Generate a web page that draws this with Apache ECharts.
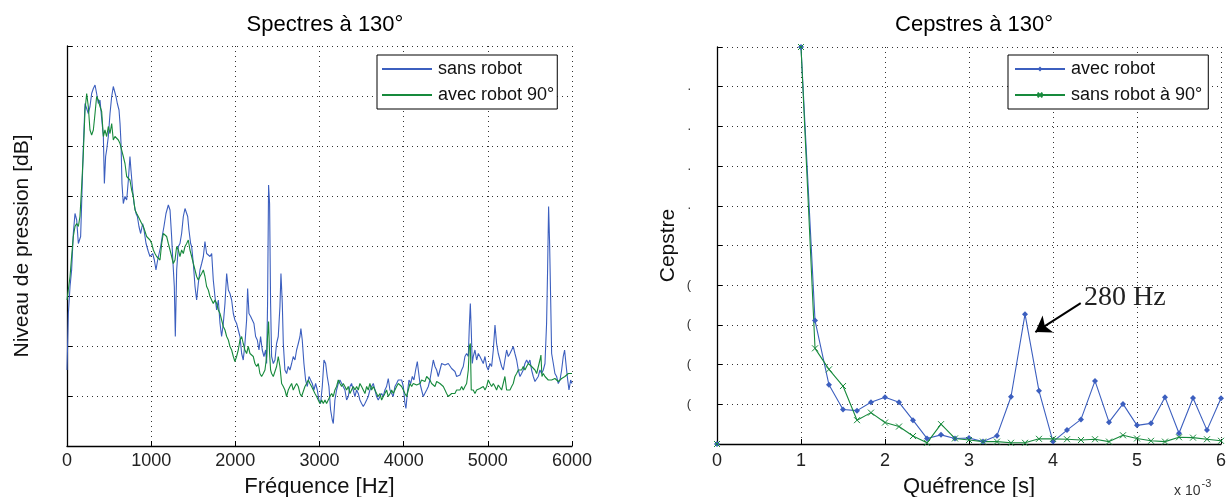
<!DOCTYPE html>
<html><head><meta charset="utf-8">
<script src="https://cdn.jsdelivr.net/npm/echarts@6/dist/echarts.min.js"></script>
<style>html,body{margin:0;padding:0;background:#fff;overflow:hidden}#c{width:1227px;height:497px}</style>
</head><body><div id="c"></div>
<script>
// ---------- Left panel: spectra (frequency in Hz, level in dB-like units) ----------
const blueFreq = [0,16,36,55,75,95,115,135,154,162,174,194,214,234,253,273,293,313,333,352,372,392,412,432,444,459,471,491,511,531,550,562,582,598,618,630,642,653,669,689,709,729,748,760,780,796,820,836,855,875,899,915,939,966,986,1018,1038,1057,1077,1097,1113,1137,1152,1176,1204,1224,1243,1255,1275,1287,1303,1323,1342,1362,1382,1402,1422,1434,1449,1469,1481,1501,1521,1540,1560,1580,1600,1620,1639,1659,1679,1699,1719,1738,1758,1778,1798,1818,1837,1857,1877,1897,1917,1936,1956,
1976,1995,2015,2035,2055,2075,2094,2114,2134,2146,2162,2182,2201,2221,2241,2261,2281,2300,2320,2340,2360,2372,2383,2395,2407,2419,2431,2451,2471,2490,2510,2530,2542,2558,2570,2589,2609,2629,2649,2669,2688,2708,2728,2748,2768,2779,2795,2815,2835,2855,2875,2894,2914,2934,2954,2974,2993,3013,3033,3053,3073,3092,3112,3132,3152,3164,3183,3203,3223,3243,3263,3282,3302,3322,3342,3362,3381,3401,3421,3441,3461,3480,3500,3520,3540,3560,3579,3599,3619,3639,3659,3678,3698,3718,3738,3758,3777,3797,3817,3837,3857,3876,3896,3916,3936,
3976,3996,4015,4027,4043,4063,4083,4103,4122,4142,4162,4174,4194,4213,4233,4253,4273,4293,4312,4332,4352,4372,4392,4411,4431,4451,4471,4491,4510,4530,4550,4570,4590,4609,4629,4649,4669,4689,4708,4728,4748,4768,4780,4792,4803,4815,4827,4847,4867,4887,4906,4926,4946,4966,4986,5005,5025,5045,5065,5085,5104,5124,5144,5164,5184,5203,5223,5243,5263,5283,5302,5322,5342,5362,5382,5401,5421,5441,5461,5481,5500,5520,5540,5560,5580,5599,5619,5639,5659,5679,5698,5710,5722,5734,5746,5758,5778,5797,5817,5837,5857,5877,5896,5912,5928,5944,5964,5984,6000];
const blueLevel = [15.2,26.5,31.9,35.2,42.5,46.5,45.2,40.5,40.2,41.9,48.5,59.9,68.5,68.9,66.5,67.9,70.5,71.5,72.2,70.5,68.5,69.2,65.5,61.9,52.5,57.9,59.2,61.9,66.5,69.9,71.9,72.2,69.9,68.5,67.2,64.5,60.5,52.5,48.5,49.9,49.2,53.2,57.9,55.2,51.2,48.5,46.5,45.9,43.9,42.5,44.5,43.2,40.5,38.9,37.9,38.5,37.2,35.2,37.2,37.2,39.9,42.5,43.9,46.5,48.2,47.2,41.9,37.9,31.9,21.9,35.2,39.9,40.5,42.5,45.9,47.5,47.2,45.9,43.2,40.5,39.9,36.5,31.9,29.2,32.5,35.2,36.5,37.9,40.9,38.5,38.9,37.9,38.5,33.2,29.9,27.2,29.2,24.5,21.9,24.5,28.5,34.5,31.2,30.5,29.2,
26.5,25.2,24.5,23.2,21.9,18.5,17.2,20.5,25.2,31.5,26.5,25.9,26.2,24.5,21.9,21.2,19.2,21.9,19.2,17.9,19.2,16.5,28.5,52.2,48.5,28.5,17.9,16.5,17.2,20.5,21.9,27.9,34.5,28.5,20.5,15.2,14.5,15.9,15.2,16.5,17.9,17.2,19.2,20.5,21.9,23.5,21.2,16.5,13.2,11.9,13.9,13.2,12.5,11.2,12.5,11.2,9.2,8.5,11.9,17.2,16.5,13.9,11.9,7.2,5.2,4.5,9.2,11.2,12.5,13.2,12.5,12.5,11.2,9.2,9.9,11.9,12.5,11.2,9.9,11.2,10.5,9.2,8.5,7.9,8.5,9.2,9.9,11.2,11.9,12.5,11.2,9.9,9.2,9.9,10.5,9.9,11.2,11.9,13.5,11.2,10.5,9.9,11.9,12.5,13.2,
13.2,11.9,8.5,7.5,10.5,13.2,12.5,13.9,13.2,15.2,16.9,15.2,12.5,11.2,9.9,9.9,11.2,11.9,13.2,15.2,17.2,15.9,15.2,13.9,15.2,16.5,16.5,16.2,15.9,16.5,16.2,15.5,15.9,14.9,13.9,13.5,14.2,15.2,15.9,17.9,18.5,17.9,23.9,28.5,23.2,16.5,17.9,19.2,17.2,18.5,17.9,17.2,16.5,17.9,15.9,15.2,16.5,15.9,19.2,24.2,20.5,18.5,17.2,15.9,15.2,17.2,19.2,17.9,18.5,19.2,19.9,18.5,17.2,15.2,13.9,14.5,15.2,16.5,17.2,16.5,17.2,15.2,13.9,12.9,13.2,13.9,15.2,14.5,15.2,16.5,24.5,35.2,47.9,40.5,29.9,18.5,16.5,14.5,13.9,12.5,13.2,15.2,17.9,19.2,16.5,13.9,11.2,13.2,12.5];

const greenFreq = [0,36,55,75,95,115,135,154,174,194,214,234,253,273,293,313,333,352,372,392,412,432,451,471,491,511,531,550,570,590,610,630,649,669,689,709,729,748,768,788,808,828,847,867,887,907,927,946,966,986,1006,1026,1045,1065,1085,1105,1125,1144,1164,1184,1204,1224,1243,1263,1283,1303,1323,1342,1362,1382,1402,1422,1441,1461,1481,1501,1521,1540,1560,1580,1600,1620,1639,1659,1679,1699,1719,1738,1758,1778,1798,1818,1837,1857,1877,1897,1917,1936,1956,
1976,1995,2015,2035,2055,2075,2094,2114,2134,2154,2174,2193,2213,2233,2253,2273,2292,2312,2332,2352,2372,2383,2395,2407,2419,2431,2451,2471,2490,2510,2530,2550,2570,2589,2609,2629,2649,2669,2688,2708,2728,2748,2768,2787,2807,2827,2847,2867,2886,2906,2926,2946,2966,2985,3005,3025,3045,3065,3084,3104,3124,3144,3164,3183,3203,3223,3243,3263,3282,3302,3322,3342,3362,3381,3401,3421,3441,3461,3480,3500,3520,3540,3560,3579,3599,3619,3639,3659,3678,3698,3718,3738,3758,3777,3797,3817,3837,3857,3876,3896,3916,3936,
3976,3996,4015,4035,4055,4075,4095,4114,4134,4154,4174,4194,4213,4233,4253,4273,4293,4312,4332,4352,4372,4392,4411,4431,4451,4471,4491,4510,4530,4550,4570,4590,4609,4629,4649,4669,4689,4708,4728,4748,4768,4780,4792,4803,4815,4827,4847,4867,4887,4906,4926,4946,4966,4986,5005,5025,5045,5065,5085,5104,5124,5144,5164,5184,5203,5223,5243,5263,5283,5302,5322,5342,5362,5382,5401,5421,5441,5461,5481,5500,5520,5540,5560,5580,5599,5619,5631,5643,5659,5679,5698,5718,5738,5758,5778,5797,5817,5837,5857,5877,5896,5916,5936,5956,5976,6000];
const greenLevel = [29.2,33.9,37.9,41.9,43.9,44.5,43.9,45.9,51.9,58.5,67.2,70.5,67.9,63.2,62.2,63.2,66.5,69.9,69.2,67.9,66.9,61.9,63.2,61.9,63.9,62.5,64.5,61.2,61.9,61.9,61.2,60.5,59.2,57.9,56.5,53.9,53.9,53.2,51.2,49.9,47.2,46.5,45.9,45.2,44.5,43.9,42.9,41.9,41.9,41.2,40.5,39.2,38.5,37.9,37.9,37.2,40.5,42.5,42.5,41.9,40.5,39.2,37.9,36.5,37.2,39.9,39.2,37.9,39.2,38.5,39.9,40.5,41.2,39.2,37.9,36.5,35.2,33.9,33.2,33.9,34.5,35.2,33.9,31.9,31.2,29.9,29.9,28.5,29.2,28.5,27.2,26.5,25.2,23.9,23.2,21.9,21.2,19.9,19.2,
17.9,16.9,17.9,19.2,21.2,21.9,20.5,19.2,18.5,19.9,18.5,18.5,17.9,16.5,15.9,16.5,14.5,13.9,14.5,15.2,17.9,21.9,24.9,18.5,15.2,14.5,13.9,13.9,15.9,17.9,15.9,12.5,11.9,11.2,9.9,11.2,11.9,12.5,11.2,11.9,12.5,11.9,10.5,9.9,9.9,11.9,12.5,13.2,12.5,11.9,11.2,10.5,9.9,9.2,8.5,9.2,8.5,9.2,8.5,9.2,9.9,10.5,9.9,11.2,11.9,13.2,12.5,11.9,12.5,11.9,11.2,11.9,10.5,11.2,11.9,11.2,11.9,11.2,12.5,11.9,11.2,10.5,11.9,11.2,12.5,11.2,11.9,11.2,10.5,9.9,10.5,9.2,9.9,10.5,11.2,9.9,10.5,11.2,10.5,11.2,11.9,12.5,
11.9,11.2,10.5,9.9,11.2,12.5,11.9,12.5,12.9,12.2,11.9,12.5,13.2,13.5,12.9,13.9,13.9,13.2,12.5,12.2,11.9,12.9,13.2,12.5,12.5,11.9,11.2,10.5,9.9,10.2,10.5,10.9,10.5,11.2,10.9,11.2,11.9,11.2,11.9,12.5,15.2,19.9,20.5,11.2,10.9,11.2,10.5,11.2,10.9,11.5,11.2,11.9,11.2,11.9,13.2,12.5,11.9,12.5,11.9,11.2,12.2,11.9,11.2,11.5,13.9,11.2,10.9,11.2,11.9,12.5,13.9,14.5,15.2,14.9,15.2,15.9,15.2,15.9,16.5,16.2,15.9,15.9,15.2,14.5,14.9,17.2,18.2,13.9,14.5,13.9,13.5,13.2,12.9,13.2,12.9,13.5,13.2,12.9,13.2,13.5,13.2,13.9,14.2,14.5,14.9,14.5];

// ---------- Right panel: cepstra (quefrency in ms, i.e. x 10^-3 s) ----------
const quefrency = [0,0.167,0.333,0.5,0.667,0.833,1,1.167,1.333,1.5,1.667,1.833,2,2.167,2.333,2.5,2.667,2.833,3,3.167,3.333,3.5,3.667,3.833,4,4.167,4.333,4.5,4.667,4.833,5,5.167,5.333,5.5,5.667,5.833,6];
const cepAvec = [0,null,null,null,null,null,10,3.11,1.49,0.87,0.84,1.05,1.18,1.05,0.60,0.14,0.23,0.14,0.15,0.06,0.21,1.19,3.27,1.34,0.06,0.35,0.62,1.59,0.55,1.01,0.47,0.52,1.18,0.27,1.16,0.35,1.15];
const cepSans90 = [0,null,null,null,null,null,10,2.41,1.88,1.46,0.60,0.79,0.54,0.44,0.20,0.03,0.50,0.14,0.10,0.06,0.06,0.03,0.03,0.13,0.13,0.12,0.10,0.12,0.06,0.22,0.14,0.08,0.06,0.17,0.16,0.12,0.08];

const pairs = (xs, ys) => xs.map((x, i) => [x, ys[i] == null ? '-' : ys[i]]);

const FONT = 'Liberation Sans, Arial, sans-serif';
const BLUE = '#3c5fbf';
const GREEN = '#178a3c';
const gridLine = { show: true, lineStyle: { color: '#333', type: [1, 4], width: 1 } };
const axisLine = { show: true, lineStyle: { color: '#000', width: 1.3 } };
const tick = { show: true, inside: true, length: 5, lineStyle: { color: '#000' } };
const tickLabel = { color: '#222', fontSize: 18, fontFamily: FONT };
const nameStyle = { color: '#111', fontSize: 22, fontFamily: FONT };
const legendText = { fontSize: 18, color: '#111', fontFamily: FONT, padding: [0, 0, 0, 1] };

const chart = echarts.init(document.getElementById('c'), null, { renderer: 'canvas', width: 1227, height: 497 });
chart.setOption({
  animation: false,
  backgroundColor: '#fff',
  title: [
    { text: 'Spectres à 130°', left: 320, top: 9, textAlign: 'center',
      textStyle: { fontSize: 22, fontWeight: 'normal', color: '#000', fontFamily: FONT } },
    { text: 'Cepstres à 130°', left: 969, top: 9, textAlign: 'center',
      textStyle: { fontSize: 22, fontWeight: 'normal', color: '#000', fontFamily: FONT } }
  ],
  legend: [
    { data: ['sans robot', 'avec robot 90°'], orient: 'vertical', left: 377, top: 55,
      itemWidth: 50, itemHeight: 6, itemGap: 8, padding: [5, 3, 5, 4],
      itemStyle: { opacity: 0 },
      borderColor: '#000', borderWidth: 1, backgroundColor: '#fff', textStyle: legendText },
    { data: ['avec robot', 'sans robot à 90°'], orient: 'vertical', left: 1008, top: 55,
      itemWidth: 50, itemHeight: 6, itemGap: 8, padding: [5, 6, 5, 6],
      borderColor: '#000', borderWidth: 1, backgroundColor: '#fff', textStyle: legendText }
  ],
  grid: [
    { left: 67, width: 505, top: 46, height: 400, containLabel: false, outerBoundsMode: 'none' },
    { left: 717, width: 504, top: 47, height: 397, containLabel: false, outerBoundsMode: 'none' }
  ],
  xAxis: [
    { type: 'value', gridIndex: 0, min: 0, max: 6000, interval: 1000,
      name: 'Fréquence [Hz]', nameLocation: 'middle', nameGap: 30, nameTextStyle: nameStyle,
      axisLine, axisTick: tick, splitLine: gridLine,
      axisLabel: Object.assign({ margin: 6, formatter: v => String(v) }, tickLabel) },
    { type: 'value', gridIndex: 1, min: 0, max: 6, interval: 1,
      name: 'Quéfrence [s]', nameLocation: 'middle', nameGap: 32, nameTextStyle: nameStyle,
      axisLine, axisTick: tick, splitLine: gridLine,
      axisLabel: Object.assign({ margin: 8, formatter: v => String(v) }, tickLabel) }
  ],
  yAxis: [
    { type: 'value', gridIndex: 0, min: 0, max: 80, interval: 10,
      name: 'Niveau de pression [dB]', nameLocation: 'middle', nameGap: 34,
      nameTextStyle: Object.assign({}, nameStyle, { fontSize: 21 }),
      axisLine, axisTick: tick, splitLine: gridLine, axisLabel: { show: false } },
    { type: 'value', gridIndex: 1, min: 0, max: 10, interval: 1,
      name: 'Cepstre', nameLocation: 'middle', nameGap: 38,
      nameTextStyle: Object.assign({}, nameStyle, { fontSize: 21 }),
      axisLine, axisTick: tick, splitLine: gridLine,
      axisLabel: { margin: 26, fontSize: 13, color: '#333', fontFamily: FONT,
        formatter: v => (v >= 1 && v <= 4) ? '(' : ((v >= 6 && v <= 9) ? '.' : '') } }
  ],
  series: [
    { name: 'sans robot', type: 'line', xAxisIndex: 0, yAxisIndex: 0, data: pairs(blueFreq, blueLevel),
      symbol: 'none', lineStyle: { color: BLUE, width: 1.1 }, itemStyle: { color: BLUE } },
    { name: 'avec robot 90°', type: 'line', xAxisIndex: 0, yAxisIndex: 0, data: pairs(greenFreq, greenLevel),
      symbol: 'none', lineStyle: { color: GREEN, width: 1.1 }, itemStyle: { color: GREEN } },
    { name: 'avec robot', type: 'line', xAxisIndex: 1, yAxisIndex: 1, data: pairs(quefrency, cepAvec),
      symbol: 'diamond', symbolSize: 6, showAllSymbol: true,
      lineStyle: { color: BLUE, width: 1.1 }, itemStyle: { color: BLUE },
      markLine: { silent: true, symbol: ['none', 'arrow'], symbolSize: 15, animation: false,
        lineStyle: { color: '#000', width: 2, type: 'solid' }, label: { show: false },
        data: [[{ coord: [4.33, 3.55] }, { coord: [3.79, 2.82] }]] } },
    { name: 'sans robot à 90°', type: 'line', xAxisIndex: 1, yAxisIndex: 1, data: pairs(quefrency, cepSans90),
      symbol: 'path://M0,0L10,10M10,0L0,10', symbolSize: 6, showAllSymbol: true,
      lineStyle: { color: GREEN, width: 1.1 },
      itemStyle: { color: 'rgba(0,0,0,0)', borderColor: GREEN, borderWidth: 1 } }
  ],
  graphic: [
    { type: 'text', left: 1084, top: 284, z: 10,
      style: { text: '280 Hz', fontSize: 28, fontFamily: 'Liberation Serif, Times New Roman, serif', fill: '#222' } },
    { type: 'text', left: 1174, top: 478, z: 10,
      style: { text: '{a|x 10}{b|-3}', fill: '#333',
        rich: { a: { fontSize: 14, fontFamily: FONT, color: '#333', verticalAlign: 'bottom' },
                b: { fontSize: 11, fontFamily: FONT, color: '#333', verticalAlign: 'top', padding: [0, 0, 9, 1] } } } }
  ]
});
</script>
</body></html>
